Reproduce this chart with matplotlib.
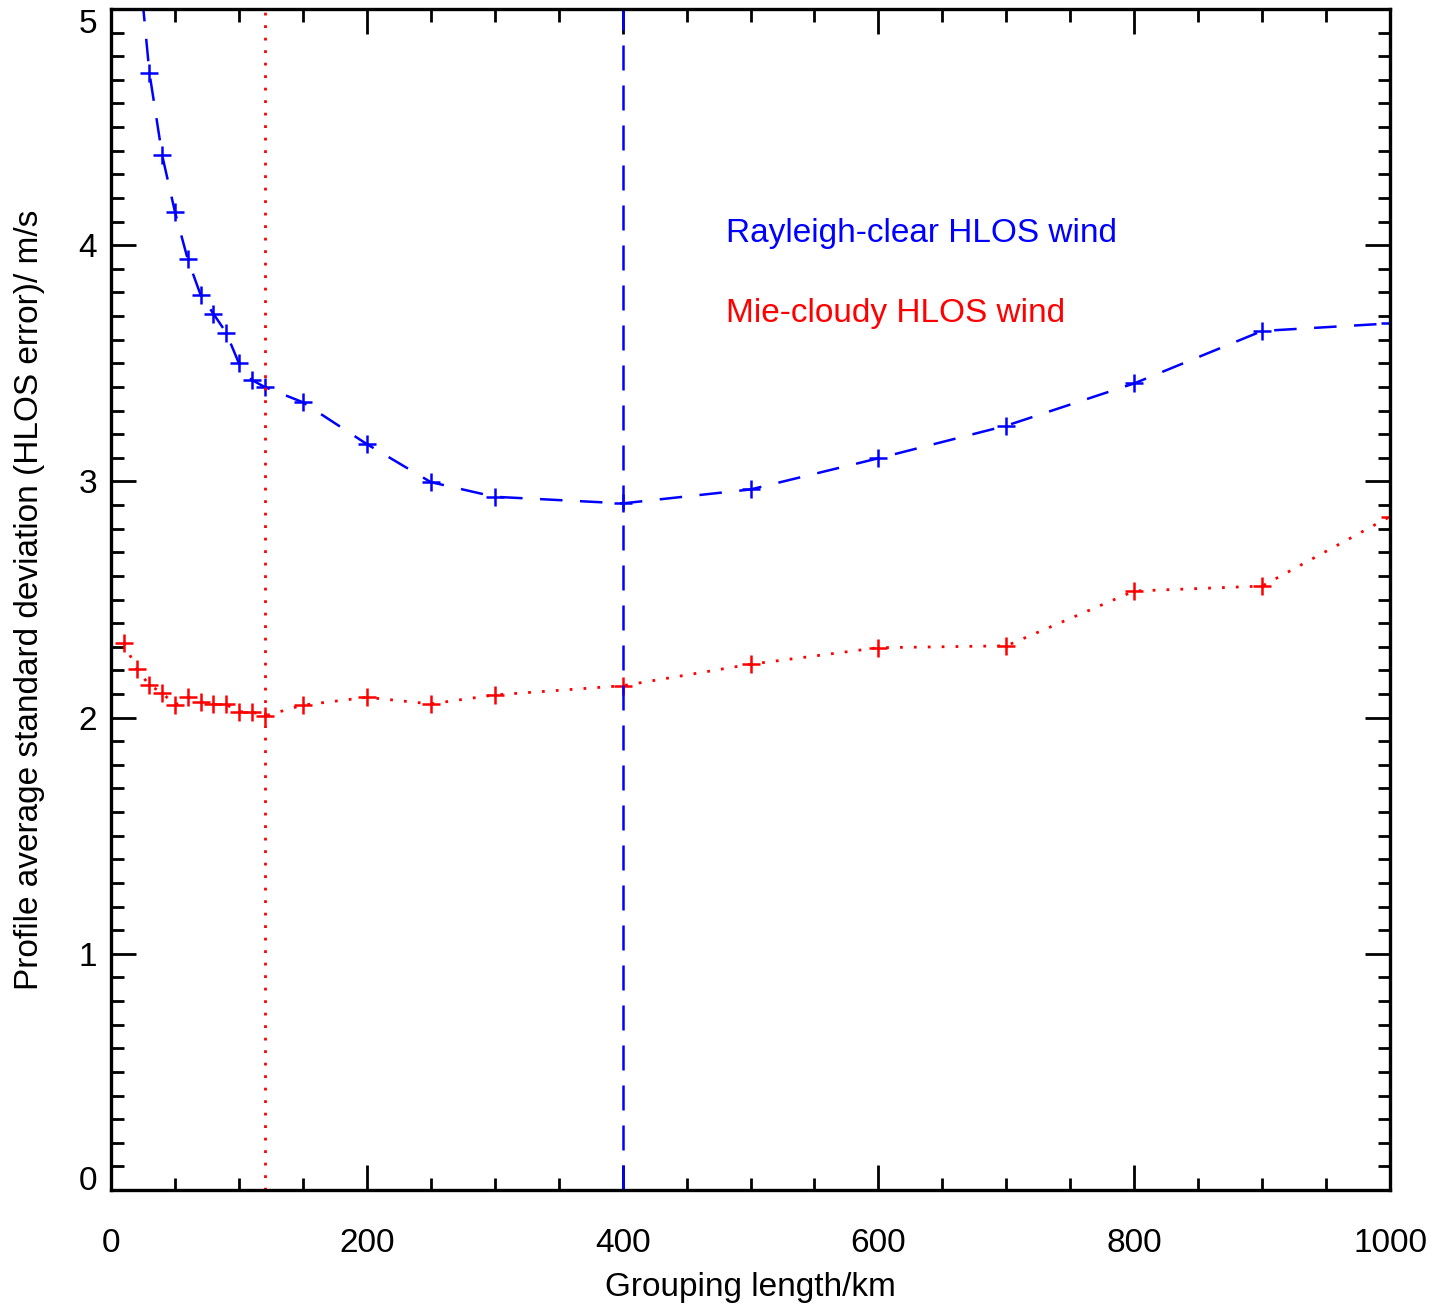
import numpy as np
import matplotlib.pyplot as plt
from matplotlib.ticker import MultipleLocator, FixedLocator

plt.rcParams['font.family'] = ['Liberation Sans', 'DejaVu Sans']

# Grouping length (km) and profile-average HLOS error std (m/s)
rayleigh_x = [10, 20, 30, 40, 50, 60, 70, 80, 90, 100, 110, 120, 150, 200, 250,
              300, 400, 500, 600, 700, 800, 900, 1000]
rayleigh_y = [6.4, 5.3, 4.73, 4.38, 4.14, 3.94, 3.79, 3.71, 3.63, 3.50, 3.43, 3.40,
              3.335, 3.158, 2.997, 2.935, 2.907, 2.966, 3.098, 3.236, 3.415, 3.637, 3.669]

mie_x = [10, 20, 30, 40, 50, 60, 70, 80, 90, 100, 110, 120, 150, 200, 250,
         300, 400, 500, 600, 700, 800, 900, 1000]
mie_y = [2.317, 2.207, 2.137, 2.105, 2.053, 2.086, 2.067, 2.056, 2.056, 2.025, 2.025,
         2.007, 2.053, 2.086, 2.058, 2.096, 2.135, 2.226, 2.296, 2.304, 2.536, 2.557, 2.851]

rayleigh_opt = 400   # optimum grouping length, Rayleigh
mie_opt = 120        # optimum grouping length, Mie

y_ticks = [0, 1, 2, 3, 4, 5]

blue = (0, 0, 1)
red = (1, 0, 0)
fs = 24

fig = plt.figure(figsize=(14.33, 13.07), dpi=100)
ax = fig.add_axes([0.0775, 0.0895, 0.8925, 0.9036])

ax.plot(rayleigh_x, rayleigh_y, color=blue, lw=1.8, dashes=(9, 7),
        marker='+', ms=13, mew=1.8)
ax.plot(mie_x, mie_y, color=red, lw=2.0, dashes=(1, 4),
        marker='+', ms=13, mew=1.8)

ax.axvline(rayleigh_opt, color=blue, lw=1.8, dashes=(10, 6))
ax.axvline(mie_opt, color=red, lw=2.0, dashes=(1, 3.5))

ax.text(481, 4.05, 'Rayleigh-clear HLOS wind', color=blue, fontsize=fs, va='center')
ax.text(481, 3.71, 'Mie-cloudy HLOS wind', color=red, fontsize=fs, va='center')

ax.set_xlim(0, 1000)
ax.set_ylim(0, 5)
ax.xaxis.set_major_locator(MultipleLocator(200))
ax.xaxis.set_minor_locator(MultipleLocator(50))
ax.yaxis.set_major_locator(FixedLocator(y_ticks))
ax.yaxis.set_minor_locator(MultipleLocator(0.1))

ax.tick_params(which='both', direction='in', top=True, right=True, width=2, color='black')
ax.tick_params(which='major', length=18)
ax.tick_params(which='minor', length=9)
ax.tick_params(axis='x', which='major', pad=27, labelsize=fs)
ax.tick_params(axis='y', which='major', pad=10, labelsize=fs)
for sp in ax.spines.values():
    sp.set_linewidth(2.4)

# IDL-style: keep end labels inside the axis range
yt = ax.yaxis.get_major_ticks()
yt[0].label1.set_va('baseline')
yt[-1].label1.set_va('top')

ax.set_xlabel('Grouping length/km', fontsize=fs)
ax.set_ylabel('Profile average standard deviation (HLOS error)/ m/s', fontsize=fs)
ax.xaxis.set_label_coords(0.5, -0.069)
ax.yaxis.set_label_coords(-0.052, 0.5)

fig.savefig('out.png', dpi=100)
